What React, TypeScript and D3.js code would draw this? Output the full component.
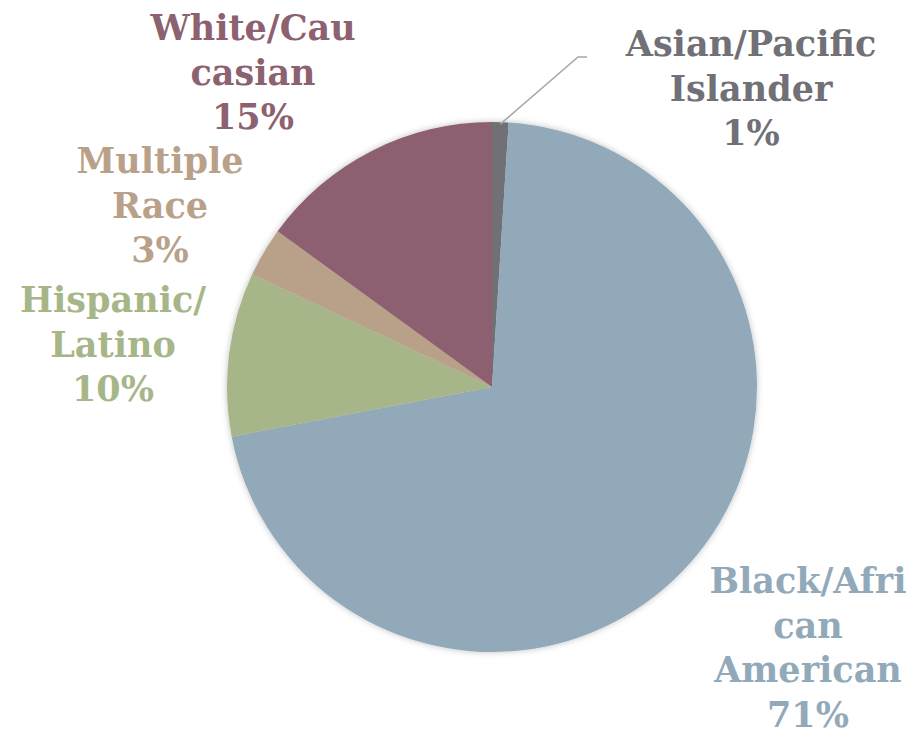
import React from 'react'
import * as d3 from 'd3'

// slice order: clockwise from 12 o'clock
const groups = ['Asian/Pacific Islander', 'Black/African American', 'Hispanic/Latino', 'Multiple Race', 'White/Caucasian']
const shares = [1, 71, 10, 3, 15]
// label text as wrapped in the original
const labelLines = [
  ['Asian/Pacific', 'Islander', '1%'],
  ['Black/Afri', 'can', 'American', '71%'],
  ['Hispanic/', 'Latino', '10%'],
  ['Multiple', 'Race', '3%'],
  ['White/Cau', 'casian', '15%'],
]
const colors = ['#707076', '#92a9b9', '#a7b688', '#b9a189', '#8c6170']

const width = 915
const height = 731
const cx = 492
const cy = 387
const radius = 265
const lineHeight = 44.7
// label anchor (centre x, first baseline), relative to pie centre
const labelAt = [
  [259, -331],
  [316, 206],
  [-379, -75],
  [-332, -214],
  [-239, -347],
]

export default function App() {
  const pie = d3.pie<number>().sort(null).value((d) => d)
  const arcs = pie(shares)
  const arc = d3.arc<d3.PieArcDatum<number>>().innerRadius(0).outerRadius(radius)

  const asian = arcs[0]
  const mid = (asian.startAngle + asian.endAngle) / 2
  const p0 = [Math.sin(mid) * radius, -Math.cos(mid) * radius]

  return (
    <svg width={width} height={height} style={{ position: 'absolute', left: 0, top: 0, background: '#fff' }}>
      <defs>
        <filter id="shadow" x="-10%" y="-10%" width="120%" height="120%">
          <feDropShadow dx="0" dy="0" stdDeviation="3" floodColor="#000" floodOpacity="0.25" />
        </filter>
      </defs>
      <g transform={`translate(${cx},${cy})`}>
        <g filter="url(#shadow)">
          {arcs.map((a, i) => (
            <path key={groups[i]} d={arc(a) || ''} fill={colors[i]} />
          ))}
        </g>
        <polyline
          points={`${p0[0]},${p0[1] + 2} 86,-330 95,-330`}
          fill="none"
          stroke="#a6a6a6"
          strokeWidth={1.5}
        />
        {labelLines.map((lines, i) => (
          <text
            key={groups[i]}
            textAnchor="middle"
            fill={colors[i]}
            fontFamily="'DejaVu Serif', serif"
            fontWeight="bold"
            fontSize={35}
          >
            {lines.map((t, j) => (
              <tspan key={j} x={labelAt[i][0]} y={labelAt[i][1] + j * lineHeight}>
                {t}
              </tspan>
            ))}
          </text>
        ))}
      </g>
    </svg>
  )
}
